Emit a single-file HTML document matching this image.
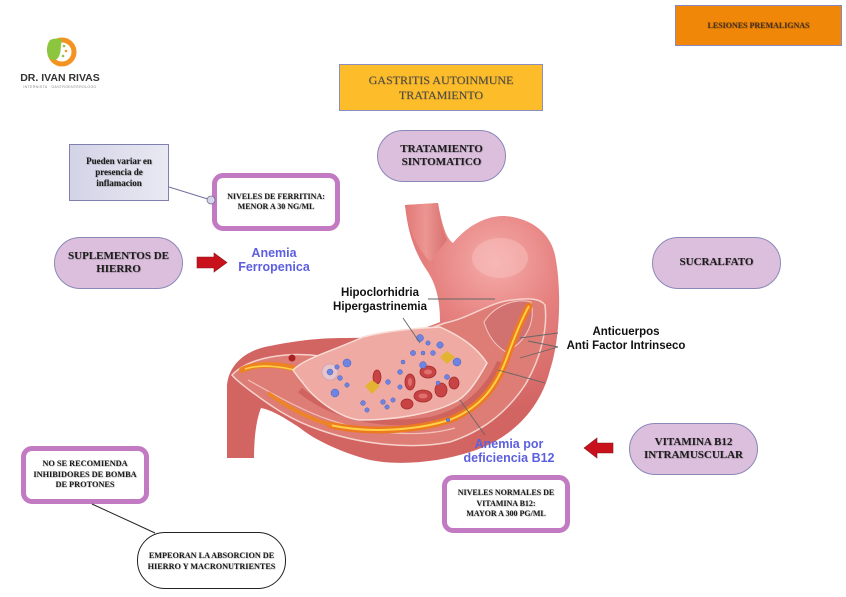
<!DOCTYPE html>
<html><head><meta charset="utf-8">
<style>
html,body{margin:0;padding:0;background:#fff;}
body{width:846px;height:597px;position:relative;overflow:hidden;}
.b{position:absolute;display:flex;align-items:center;justify-content:center;text-align:center;box-sizing:border-box;font-family:"Liberation Serif",serif;font-weight:bold;color:#1c1c1c;text-shadow:0.6px 0.6px 1px rgba(0,0,0,0.35);}
.pill{background:#dcbfdd;border:1px solid #8a88b8;border-radius:27px;font-size:11px;line-height:13.5px;}
.pb{background:#fff;border:5px solid #c27bc2;border-radius:11px;font-size:8px;line-height:10.5px;}
.lbl{position:absolute;font-family:"Liberation Sans",sans-serif;font-weight:bold;text-align:center;white-space:nowrap;}
</style></head><body>

<!-- logo -->
<svg style="position:absolute;left:0;top:0" width="120" height="100">
  <circle cx="62" cy="52" r="12" fill="none" stroke="#f39322" stroke-width="5"/>
  <path d="M50,40 C54,38 60,38 62,40 C60,46 62,52 58,58 C54,62 50,60 48,56 C46,50 47,44 50,40 Z" fill="#8cc63f"/>
  <circle cx="64" cy="46" r="1.3" fill="#8cc63f"/>
  <circle cx="66" cy="51" r="1.3" fill="#f39322"/>
  <circle cx="63" cy="56" r="1.3" fill="#8cc63f"/>
  <text x="60" y="81" text-anchor="middle" font-family="Liberation Sans, sans-serif" font-weight="bold" font-size="10.5" fill="#333">DR. IVAN RIVAS</text>
  <text x="60" y="88" text-anchor="middle" font-family="Liberation Sans, sans-serif" font-size="3.6" fill="#888" letter-spacing="0.3">INTERNISTA · GASTROENTEROLOGO</text>
</svg>

<!-- top boxes -->
<div class="b" style="left:675px;top:5px;width:167px;height:41px;background:#f08708;border:1px solid #8a88c0;font-size:8px;color:#4a3020;">LESIONES PREMALIGNAS</div>
<div class="b" style="left:339px;top:64px;width:204px;height:47px;background:#fdbd2b;border:1px solid #8a8fc0;font-size:12px;line-height:15px;font-weight:normal;color:#4a4a4a;text-shadow:0.4px 0.4px 0.8px rgba(0,0,0,0.3);">GASTRITIS AUTOINMUNE<br>TRATAMIENTO</div>

<div class="b pill" style="left:377px;top:130px;width:129px;height:52px;">TRATAMIENTO<br>SINTOMATICO</div>
<div class="b pill" style="left:54px;top:237px;width:129px;height:52px;">SUPLEMENTOS DE<br>HIERRO</div>
<div class="b pill" style="left:652px;top:237px;width:129px;height:52px;">SUCRALFATO</div>
<div class="b pill" style="left:629px;top:423px;width:129px;height:52px;">VITAMINA B12<br>INTRAMUSCULAR</div>

<div class="b" style="left:69px;top:144px;width:100px;height:57px;background:linear-gradient(90deg,#d3d3e7,#e9e9f3);border:1px solid #7f7fb0;font-size:9px;line-height:11px;">Pueden variar en<br>presencia de<br>inflamacion</div>

<div class="b pb" style="left:212px;top:173px;width:128px;height:58px;">NIVELES DE FERRITINA:<br>MENOR A 30 NG/ML</div>
<div class="b pb" style="left:442px;top:475px;width:128px;height:58px;">NIVELES NORMALES DE<br>VITAMINA B12:<br>MAYOR A 300 PG/ML</div>
<div class="b pb" style="left:21px;top:446px;width:128px;height:58px;font-size:8.3px;">NO SE RECOMIENDA<br>INHIBIDORES DE BOMBA<br>DE PROTONES</div>

<div class="b" style="left:137px;top:532px;width:149px;height:57px;background:#fff;border:1px solid #222;border-radius:28px;font-size:8.2px;line-height:11px;">EMPEORAN LA ABSORCION DE<br>HIERRO Y MACRONUTRIENTES</div>

<!-- stomach + connectors -->
<svg style="position:absolute;left:0;top:0" width="846" height="597">
  <defs>
    <radialGradient id="sg" cx="495" cy="262" r="150" gradientUnits="userSpaceOnUse">
      <stop offset="0" stop-color="#f5acaa"/>
      <stop offset="0.45" stop-color="#e5807e"/>
      <stop offset="1" stop-color="#d26462"/>
    </radialGradient>
    <linearGradient id="eg" x1="0" y1="0" x2="1" y2="0">
      <stop offset="0" stop-color="#e27a78"/><stop offset="0.5" stop-color="#ee9a96"/><stop offset="1" stop-color="#d56c6a"/>
    </linearGradient>
  </defs>

  <!-- connectors -->
  <line x1="169" y1="187" x2="211" y2="200" stroke="#7070a0" stroke-width="1"/>
  <circle cx="211" cy="200" r="4" fill="#d6d6ea" stroke="#707090" stroke-width="0.8"/>
  <line x1="92" y1="504" x2="155" y2="533" stroke="#222" stroke-width="1"/>

  <!-- arrows -->
  <path d="M197,257 L214,257 L214,253 L227,262.5 L214,272 L214,268 L197,268 Z" fill="#c8111b" stroke="#8a1a20" stroke-width="0.6"/>
  <path d="M613,443 L597,443 L597,438 L584,448 L597,458 L597,453 L613,453 Z" fill="#c8111b" stroke="#8a1a20" stroke-width="0.6"/>

  <!-- stomach outer -->
  <path d="M405,205 L438,203 C442,225 446,238 453,243 C465,228 485,215 505,216 C530,218 550,232 555,255 C562,290 560,340 550,370 C540,410 510,440 470,452 C440,462 400,466 370,460 C340,452 315,440 300,428 C285,418 272,410 261,408 C256,420 254,440 254,458 L227,458 L227,385 C229,365 245,350 270,346 C300,340 320,338 345,338 C380,338 410,335 440,322 C440,300 436,285 428,272 C416,255 408,235 405,205 Z" fill="url(#sg)"/>
  <path d="M405,205 L438,203 C440,220 443,232 447,240 L430,262 C418,248 408,232 405,205 Z" fill="url(#eg)" opacity="0.85"/>
  <ellipse cx="500" cy="258" rx="28" ry="20" fill="#f9c6c4" opacity="0.45"/>

  <!-- cut section -->
  <path d="M232,375 C250,356 290,352 320,356 C360,348 410,336 445,323 C470,318 490,302 512,300 C528,298 540,298 545,305 C548,330 540,360 525,385 C505,415 480,432 450,442 C410,450 360,444 320,430 C290,420 268,404 252,392 C244,386 237,381 232,375 Z" fill="#de7c76" stroke="#f7d2cc" stroke-width="1.5"/>
  <path d="M248,380 C270,392 300,410 330,420 C370,434 420,438 455,428" fill="none" stroke="#f4c0b8" stroke-width="1.2"/>
  <!-- right fold -->
  <path d="M484,322 C494,306 514,298 531,302 C536,322 526,342 506,352 C496,346 488,336 484,322 Z" fill="#d27270" stroke="#f4c6c0" stroke-width="1"/>
  <!-- darker band under cavity -->
  <path d="M300,390 C330,415 380,428 430,420 C465,412 488,390 500,362" fill="none" stroke="#c95a56" stroke-width="6" opacity="0.7"/>
  <!-- orange layers -->
  <path d="M330,425 C370,434 420,430 452,419 C482,406 496,386 506,360 C514,338 521,320 529,306" fill="none" stroke="#ec7a20" stroke-width="7" stroke-linecap="round"/>
  <path d="M330,425 C370,434 420,430 452,419 C482,406 496,386 506,360 C514,338 521,320 529,306" fill="none" stroke="#ffcf45" stroke-width="2"/>
  <path d="M268,393 C285,405 305,418 332,425" fill="none" stroke="#ec8428" stroke-width="4"/>
  <path d="M242,370 C258,362 282,364 302,371" fill="none" stroke="#ec8422" stroke-width="6" stroke-linecap="round"/>
  <path d="M245,369 C260,364 280,366 298,371" fill="none" stroke="#ffd24a" stroke-width="1.6"/>
  <circle cx="292" cy="358" r="3.5" fill="#a82020"/>
  <!-- cavity -->
  <path d="M293,370 C305,358 330,352 363,337 C390,330 420,328 440,327 C458,335 475,345 487,363 C475,385 465,398 453,403 C435,412 400,420 360,420 C340,418 315,400 303,383 C298,377 295,373 293,370 Z" fill="#efaaa3" stroke="#fadcd6" stroke-width="1.5"/>
  <!-- red cells -->
  <g fill="#c84444" stroke="#a42a2a" stroke-width="0.8">
    <ellipse cx="377" cy="377" rx="4" ry="7"/>
    <ellipse cx="410" cy="382" rx="5" ry="8"/>
    <ellipse cx="428" cy="372" rx="8" ry="6"/>
    <ellipse cx="423" cy="396" rx="9" ry="6"/>
    <ellipse cx="441" cy="390" rx="6" ry="7"/>
    <ellipse cx="454" cy="383" rx="5" ry="6"/>
    <ellipse cx="407" cy="404" rx="6" ry="5"/>
  </g>
  <g fill="#e07070">
    <ellipse cx="428" cy="372" rx="4" ry="2.5"/>
    <ellipse cx="423" cy="396" rx="4.5" ry="2.5"/>
    <ellipse cx="410" cy="382" rx="2" ry="4"/>
  </g>
  <circle cx="330" cy="372" r="8" fill="#e6c6cc" stroke="#d0a0b0" stroke-width="0.8"/>
  <!-- yellow patches -->
  <path d="M365,386 L372,380 L380,386 L372,394 Z" fill="#e2b431"/>
  <path d="M440,357 L447,351 L455,357 L447,364 Z" fill="#e2b431"/>
  <!-- blue dots -->
  <g fill="#6e84e2" stroke="#4a5ec0" stroke-width="0.5">
    <circle cx="420" cy="338" r="3.5"/><circle cx="428" cy="343" r="2.2"/><circle cx="440" cy="345" r="3.2"/>
    <circle cx="413" cy="353" r="2.6"/><circle cx="423" cy="353" r="2"/><circle cx="433" cy="353" r="2.4"/>
    <circle cx="457" cy="362" r="4"/><circle cx="447" cy="377" r="2.5"/><circle cx="438" cy="383" r="2"/>
    <circle cx="423" cy="365" r="3.4"/><circle cx="400" cy="372" r="2.4"/><circle cx="388" cy="382" r="2.4"/>
    <circle cx="347" cy="363" r="4"/><circle cx="337" cy="367" r="2.2"/><circle cx="340" cy="378" r="2.4"/>
    <circle cx="347" cy="385" r="2.2"/><circle cx="335" cy="393" r="4"/><circle cx="363" cy="403" r="2.4"/>
    <circle cx="383" cy="402" r="2.4"/><circle cx="393" cy="400" r="2.2"/><circle cx="387" cy="407" r="2.2"/>
    <circle cx="367" cy="410" r="2.2"/><circle cx="400" cy="387" r="2.2"/><circle cx="403" cy="362" r="2"/>
    <circle cx="448" cy="420" r="1.8"/><circle cx="330" cy="372" r="3"/>
  </g>

  <!-- label lines -->
  <g stroke="#666" stroke-width="0.9" fill="none">
    <line x1="428" y1="299" x2="495" y2="299"/>
    <line x1="403" y1="318" x2="420" y2="343"/>
    <line x1="558" y1="333" x2="520" y2="338"/>
    <line x1="558" y1="347" x2="528" y2="341"/>
    <line x1="558" y1="347" x2="520" y2="358"/>
    <line x1="545" y1="383" x2="498" y2="370"/>
    <line x1="485" y1="435" x2="460" y2="400"/>
  </g>
</svg>

<!-- stomach labels -->
<div class="lbl" style="left:300px;top:286px;width:160px;font-size:11.5px;line-height:14px;color:#111;">Hipoclorhidria<br>Hipergastrinemia</div>
<div class="lbl" style="left:546px;top:325px;width:160px;font-size:11.5px;line-height:14px;color:#111;">Anticuerpos<br>Anti Factor Intrinseco</div>
<div class="lbl" style="left:214px;top:246px;width:120px;font-size:12.5px;line-height:14px;color:#5c5fe0;">Anemia<br>Ferropenica</div>
<div class="lbl" style="left:449px;top:437px;width:120px;font-size:12.5px;line-height:14px;color:#5c5fe0;">Anemia por<br>deficiencia B12</div>

</body></html>
